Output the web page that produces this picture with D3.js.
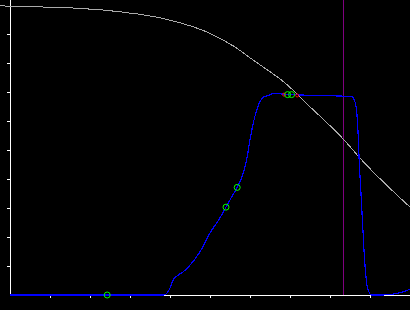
<!DOCTYPE html>
<html>
<head>
<meta charset="utf-8">
<script src="https://cdn.jsdelivr.net/npm/d3@7"></script>
<style>
  html, body { margin: 0; padding: 0; background: #000; overflow: hidden; }
  .axis path, .axis line { stroke: #fff; shape-rendering: crispEdges; }
</style>
</head>
<body>
<div id="chart"></div>
<script>
// grey descending curve
const greyX = [-0.25, 0.83, 1.53, 1.98, 2.3, 2.58, 2.8, 3.0, 3.25, 4.08, 4.92, 5.58, 6.08, 6.58, 6.79, 7.5, 8.33, 8.75, 10.0];
const greyY = [0.997, 0.993, 0.990, 0.986, 0.983, 0.979, 0.976, 0.972, 0.968, 0.945, 0.907, 0.859, 0.810, 0.762, 0.741, 0.649, 0.538, 0.472, 0.303];

// blue curve
const blueX = [0, 3.85, 4.0, 4.08, 4.21, 4.33, 4.5, 4.75, 5.0, 5.25, 5.4, 5.5, 5.68, 5.83, 5.93, 6.0, 6.08, 6.17, 6.25, 6.33, 6.5, 6.58, 6.83, 7.21, 8.04, 8.54, 8.625, 8.67, 8.71, 8.725, 8.77, 8.81, 8.86, 8.9, 8.94, 9.04, 9.29, 9.58, 9.83, 10.0];
const blueY = [0, 0, 0.024, 0.052, 0.069, 0.080, 0.103, 0.149, 0.214, 0.266, 0.303, 0.328, 0.371, 0.420, 0.477, 0.535, 0.592, 0.638, 0.667, 0.682, 0.690, 0.695, 0.693, 0.690, 0.687, 0.684, 0.666, 0.628, 0.535, 0.477, 0.362, 0.259, 0.132, 0.063, 0.023, 0, 0, 0.003, 0.011, 0.020];

// marked points
const greenX = [2.43, 5.4, 5.68, 6.94, 7.04];
const greenY = [0, 0.303, 0.371, 0.691, 0.691];
const redX = [6.85, 7.18];
const redY = [0.691, 0.688];

const markerX = 8.33;

const xTicks = [1, 2, 3, 4, 5, 6, 7, 8, 9];
const yTicks = [0.1, 0.2, 0.3, 0.4, 0.5, 0.6, 0.7, 0.8, 0.9];

const width = 410;
const height = 310;
const margin = { left: 10, bottom: 15 };

const svg = d3
  .select("#chart")
  .append("svg")
  .attr("width", width)
  .attr("height", height)
  .style("background", "#000");

const xScale = d3.scaleLinear().domain([0, 10]).range([margin.left, width]);
const yScale = d3
  .scaleLinear()
  .domain([0, 1])
  .range([height - margin.bottom, 5]);

const zip = (xs, ys) => xs.map((x, i) => [x, ys[i]]);

const line = d3
  .line()
  .x((d) => xScale(d[0]))
  .y((d) => yScale(d[1]))
  .curve(d3.curveMonotoneX);

// axes
svg
  .append("g")
  .attr("class", "axis")
  .attr("transform", `translate(0,${yScale(0)})`)
  .call(d3.axisBottom(xScale).tickValues(xTicks).tickSize(3).tickSizeOuter(0).tickFormat(""));

svg
  .append("g")
  .attr("class", "axis")
  .attr("transform", `translate(${xScale(0)},0)`)
  .call(d3.axisLeft(yScale).tickValues(yTicks).tickSize(3).tickSizeOuter(0).tickFormat(""))
  .call((g) => g.select(".domain").attr("d", `M0,0V${yScale(0)}`));

// vertical marker
svg
  .append("line")
  .attr("x1", xScale(markerX))
  .attr("x2", xScale(markerX))
  .attr("y1", 0)
  .attr("y2", yScale(0))
  .attr("stroke", "#800080")
  .attr("shape-rendering", "crispEdges");

svg
  .append("path")
  .datum(zip(greyX, greyY))
  .attr("d", line)
  .attr("fill", "none")
  .attr("stroke", "#aaa")
  .attr("stroke-width", 1)
  .attr("shape-rendering", "crispEdges");

svg
  .append("path")
  .datum(zip(blueX, blueY))
  .attr("d", line)
  .attr("fill", "none")
  .attr("stroke", "#00f")
  .attr("stroke-width", 1.2)
  .attr("shape-rendering", "crispEdges");

svg
  .selectAll("circle.red")
  .data(zip(redX, redY))
  .join("circle")
  .attr("class", "red")
  .attr("cx", (d) => xScale(d[0]))
  .attr("cy", (d) => yScale(d[1]))
  .attr("r", 1.5)
  .attr("fill", "none")
  .attr("stroke", "#f00");

svg
  .selectAll("circle.green")
  .data(zip(greenX, greenY))
  .join("circle")
  .attr("class", "green")
  .attr("cx", (d) => xScale(d[0]))
  .attr("cy", (d) => yScale(d[1]))
  .attr("r", 3)
  .attr("fill", "none")
  .attr("stroke", "#0f0");
</script>
</body>
</html>
